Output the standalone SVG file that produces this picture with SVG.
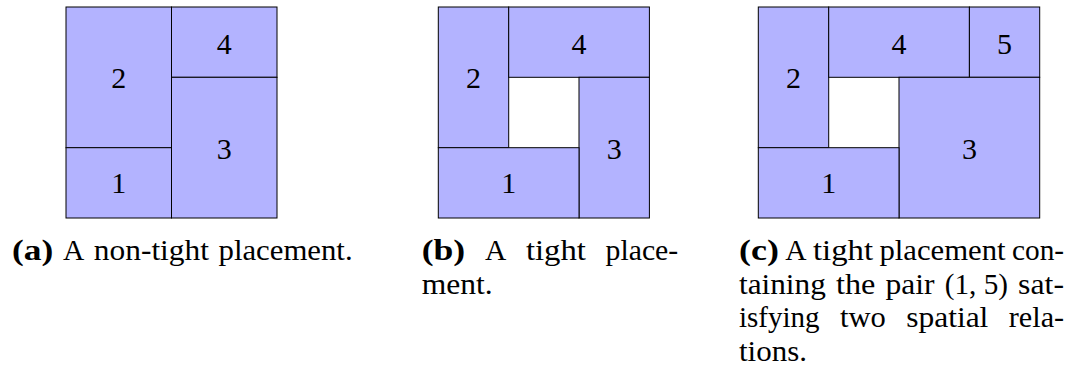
<svg xmlns="http://www.w3.org/2000/svg" width="1073" height="376" viewBox="0 0 1073 376">
<style>
.box{fill:#b3b3ff;stroke:#000;stroke-width:1}
.num{font-size:30px;text-anchor:middle;fill:#000}
.cap{font-size:28.4px;fill:#000}
.lbl{font-weight:bold}
</style>
<rect width="1073" height="376" fill="#fff"/>
<g font-family="Liberation Serif">
<g id="panel-a">
  <g id="a-2"><rect class="box" x="66" y="7" width="105.5" height="140.7"/><text class="num" x="118.75" y="88">2</text></g>
  <g id="a-1"><rect class="box" x="66" y="147.7" width="105.5" height="70.3"/><text class="num" x="118.75" y="193">1</text></g>
  <g id="a-4"><rect class="box" x="171.5" y="7" width="105.5" height="70.3"/><text class="num" x="224.25" y="54">4</text></g>
  <g id="a-3"><rect class="box" x="171.5" y="77.3" width="105.5" height="140.7"/><text class="num" x="224.25" y="158.5">3</text></g>
</g>
<g id="panel-b">
  <g id="b-2"><rect class="box" x="438.3" y="7" width="70.4" height="140.7"/><text class="num" x="473.5" y="88">2</text></g>
  <g id="b-4"><rect class="box" x="508.7" y="7" width="140.7" height="70.3"/><text class="num" x="579" y="54">4</text></g>
  <g id="b-3"><rect class="box" x="579" y="77.3" width="70.4" height="140.7"/><text class="num" x="614.2" y="158.5">3</text></g>
  <g id="b-1"><rect class="box" x="438.3" y="147.7" width="140.7" height="70.3"/><text class="num" x="508.7" y="193">1</text></g>
</g>
<g id="panel-c">
  <g id="c-2"><rect class="box" x="758.3" y="7" width="70.4" height="140.7"/><text class="num" x="793.5" y="88">2</text></g>
  <g id="c-4"><rect class="box" x="828.7" y="7" width="140.7" height="70.3"/><text class="num" x="899" y="54">4</text></g>
  <g id="c-5"><rect class="box" x="969.4" y="7" width="70.3" height="70.3"/><text class="num" x="1004.5" y="54">5</text></g>
  <g id="c-3"><rect class="box" x="899" y="77.3" width="140.7" height="140.7"/><text class="num" x="969.4" y="158.5">3</text></g>
  <g id="c-1"><rect class="box" x="758.3" y="147.7" width="140.7" height="70.3"/><text class="num" x="828.7" y="193">1</text></g>
</g>
<g id="caption-a" class="cap">
  <text y="260" x="12" class="lbl" textLength="41.3" lengthAdjust="spacingAndGlyphs">(a)</text>
  <text y="260" x="63" textLength="21.3" lengthAdjust="spacingAndGlyphs">A</text>
  <text y="260" x="93.8" textLength="115.2" lengthAdjust="spacingAndGlyphs">non-tight</text>
  <text y="260" x="218.5" textLength="134.1" lengthAdjust="spacingAndGlyphs">placement.</text>
</g>
<g id="caption-b" class="cap">
  <text y="260" x="421.7" class="lbl" textLength="43.5" lengthAdjust="spacingAndGlyphs">(b)</text>
  <text y="260" x="484.9" textLength="21.3" lengthAdjust="spacingAndGlyphs">A</text>
  <text y="260" x="525.9" textLength="60" lengthAdjust="spacingAndGlyphs">tight</text>
  <text y="260" x="605.6" textLength="72.6" lengthAdjust="spacingAndGlyphs">place-</text>
  <text y="293.7" x="421.7" textLength="71" lengthAdjust="spacingAndGlyphs">ment.</text>
</g>
<g id="caption-c" class="cap">
  <text y="260" x="739" class="lbl" textLength="39.9" lengthAdjust="spacingAndGlyphs">(c)</text>
  <text y="260" x="785.3" textLength="21.3" lengthAdjust="spacingAndGlyphs">A</text>
  <text y="260" x="813" textLength="60" lengthAdjust="spacingAndGlyphs">tight</text>
  <text y="260" x="879.4" textLength="126.2" lengthAdjust="spacingAndGlyphs">placement</text>
  <text y="260" x="1012" textLength="52.1" lengthAdjust="spacingAndGlyphs">con-</text>
  <text y="293.7" x="739" textLength="86.8" lengthAdjust="spacingAndGlyphs">taining</text>
  <text y="293.7" x="836" textLength="39.4" lengthAdjust="spacingAndGlyphs">the</text>
  <text y="293.7" x="885.6" textLength="49" lengthAdjust="spacingAndGlyphs">pair</text>
  <text y="293.7" x="944.8" textLength="63.1" lengthAdjust="spacingAndGlyphs">(1, 5)</text>
  <text y="293.7" x="1018.1" textLength="45.9" lengthAdjust="spacingAndGlyphs">sat-</text>
  <text y="327.3" x="739" textLength="80.6" lengthAdjust="spacingAndGlyphs">isfying</text>
  <text y="327.3" x="840" textLength="45.8" lengthAdjust="spacingAndGlyphs">two</text>
  <text y="327.3" x="906.2" textLength="82.2" lengthAdjust="spacingAndGlyphs">spatial</text>
  <text y="327.3" x="1008.8" textLength="55.3" lengthAdjust="spacingAndGlyphs">rela-</text>
  <text y="361" x="739" textLength="68" lengthAdjust="spacingAndGlyphs">tions.</text>
</g>
</g>
</svg>
